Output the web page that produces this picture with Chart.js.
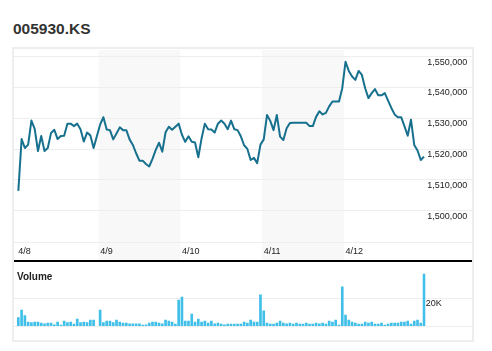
<!DOCTYPE html>
<html>
<head>
<meta charset="utf-8">
<script src="https://cdn.jsdelivr.net/npm/chart.js@4.4.0/dist/chart.umd.min.js"></script>
<style>
  body { margin: 0; background: #fff; font-family: "Liberation Sans", Arial, sans-serif; }
  #wrap { position: relative; width: 492px; height: 351px; }
  #title { position: absolute; left: 13px; top: 21px; font-size: 15.5px; line-height: 16px; font-weight: bold; color: #333; }
  #frame { position: absolute; left: 12px; top: 47px; width: 462px; height: 295px; border: 2px solid #eeeeee; box-sizing: border-box; }
  #priceCanvas { position: absolute; left: 14px; top: 49px; }
  #divider { position: absolute; left: 14px; top: 260px; width: 458px; height: 2px; background: #000; }
  #volCanvas { position: absolute; left: 14px; top: 262px; }
  #volLabel { position: absolute; left: 17px; top: 272px; font-size: 10px; line-height: 10px; font-weight: bold; color: #222; }
</style>
</head>
<body>
<div id="wrap">
  <div id="title">005930.KS</div>
  <div id="frame"></div>
  <canvas id="priceCanvas" width="458" height="211"></canvas>
  <div id="divider"></div>
  <canvas id="volCanvas" width="458" height="78"></canvas>
  <div id="volLabel">Volume</div>
</div>
<script>
const dayLabels = ["4/8", "4/9", "4/10", "4/11", "4/12"];
const slotTimes = ["09:00", "09:15", "09:30", "09:45", "10:00", "10:15", "10:30", "10:45",
  "11:00", "11:15", "11:30", "11:45", "12:00", "12:15", "12:30", "12:45", "13:00", "13:15",
  "13:30", "13:45", "14:00", "14:15", "14:30", "14:45", "15:00"];

// price, 15 minute closes (4/8 has no closing bar)
const priceApr8 = [1506300, 1523100, 1520200, 1521300, 1529100, 1526400, 1519200, 1524100,
  1519200, 1520200, 1525100, 1526100, 1523100, 1524100, 1524200, 1528100, 1528100, 1527300,
  1528100, 1526300, 1522300, 1525200, 1524300, 1520200, null];
const priceApr9 = [1527800, 1530200, 1526200, 1526000, 1523000, 1524900, 1526900, 1526000,
  1526000, 1523000, 1521200, 1518500, 1516100, 1516100, 1515000, 1514200, 1516700, 1519600,
  1521900, 1519000, 1525300, 1527100, 1526100, 1527100, 1528100];
const priceApr10 = [1524500, 1522200, 1524000, 1522200, 1522000, 1517200, 1523300, 1528100,
  1526300, 1526200, 1525200, 1528100, 1529100, 1528100, 1526300, 1529100, 1526300, 1526000,
  1524000, 1521100, 1519900, 1516300, 1517000, 1515300, 1521300];
const priceApr11 = [1523000, 1530900, 1529000, 1526000, 1530900, 1523900, 1522800, 1526600,
  1528300, 1528400, 1528400, 1528400, 1528400, 1528400, 1527300, 1527300, 1530300, 1532100,
  1531100, 1531600, 1533700, 1535300, 1535300, 1535300, 1539600];
const priceApr12 = [1548200, 1545200, 1543400, 1542300, 1545200, 1543900, 1539600, 1536400,
  1538000, 1539300, 1537300, 1537300, 1538000, 1535600, 1533200, 1531100, 1530200, 1530200,
  1527300, 1524200, 1529400, 1521200, 1519400, 1516300, 1517400];

const volApr8 = [5900, 11300, 7300, 2800, 2400, 2800, 2800, 2100, 1600, 2100, 2100, 900, 2800,
  700, 3500, 2400, 2800, 1400, 4900, 2400, 2800, 2400, 4200, 4200, null];
const volApr9 = [11300, 2400, 3500, 3500, 2400, 4200, 2800, 2100, 2100, 1600, 1600, 1600, 1600,
  700, 900, 2100, 2800, 2800, 2100, 1600, 4200, 3500, 2800, 1400, 18400];
const volApr10 = [20500, 3500, 3500, 8500, 2800, 4900, 2800, 3500, 2100, 3500, 1600, 2100, 1400,
  900, 1400, 1400, 1400, 1400, 1400, 2800, 2100, 4200, 2800, 2800, 22100];
const volApr11 = [10700, 2100, 1400, 1400, 2100, 3500, 2100, 1600, 2100, 1400, 2100, 1400, 1400,
  2100, 1400, 1400, 2100, 1600, 2100, 1400, 3500, 2800, 4200, 700, 27600];
const volApr12 = [7800, 4200, 2800, 2100, 1400, 1400, 2800, 2100, 2800, 1400, 1400, 2100, 700,
  1400, 2100, 2100, 2100, 2800, 2800, 3500, 1400, 3500, 4200, 2100, 36700];

const priceTicks = [1500000, 1510000, 1520000, 1530000, 1540000, 1550000];
const volTicks = [0, 20000];

const perDay = slotTimes.length;
const labels = dayLabels.flatMap(d => slotTimes.map(t => d + " " + t));
const prices = [].concat(priceApr8, priceApr9, priceApr10, priceApr11, priceApr12);
const volumes = [].concat(volApr8, volApr9, volApr10, volApr11, volApr12);

const font = { family: '"Liberation Sans", Arial, sans-serif', size: 9 };
const gridColor = "#eeeeee";

// shaded days + horizontal grid lines across the whole frame (drawn before the axes)
const framePlugin = {
  id: "frameLines",
  beforeDraw(chart, args, opts) {
    const { ctx, chartArea, scales } = chart;
    ctx.save();
    if (opts.bands) {
      const half = scales.x.width / chart.data.labels.length / 2;
      ctx.fillStyle = "#f8f8f8";
      opts.bands.forEach(d => {
        const l = scales.x.getPixelForValue(d * perDay) - half;
        const r = scales.x.getPixelForValue(d * perDay + perDay - 1) + half;
        ctx.fillRect(l, chartArea.top, r - l, chart.height - chartArea.top);
      });
    }
    ctx.strokeStyle = gridColor;
    ctx.lineWidth = 1;
    const ys = scales.y.ticks.map(t => scales.y.getPixelForValue(t.value));
    ys.push(chartArea.bottom);
    ys.forEach(y => {
      const py = Math.round(y) + 0.5;
      ctx.beginPath();
      ctx.moveTo(0, py);
      ctx.lineTo(chart.width, py);
      ctx.stroke();
    });
    ctx.restore();
  }
};

new Chart(document.getElementById("priceCanvas"), {
  type: "line",
  data: {
    labels: labels,
    datasets: [{
      data: prices,
      borderColor: "#16708e",
      borderWidth: 2,
      pointRadius: 0,
      tension: 0,
      spanGaps: true,
      borderJoinStyle: "round"
    }]
  },
  options: {
    responsive: false,
    animation: false,
    devicePixelRatio: 1,
    layout: { padding: { left: 2.7, top: 1, right: 0, bottom: 0 } },
    plugins: {
      legend: { display: false },
      tooltip: { enabled: false },
      frameLines: { bands: [1, 3] }
    },
    scales: {
      x: {
        type: "category",
        offset: true,
        grid: { display: false, drawTicks: false },
        border: { display: false },
        // one tick at the first slot of each day
        afterBuildTicks: s => { s.ticks = dayLabels.map((d, i) => ({ value: i * perDay })); },
        afterFit: s => { s.height = 18; },
        ticks: {
          autoSkip: false,
          maxRotation: 0,
          minRotation: 0,
          align: "start",
          padding: 4,
          color: "#222",
          font: font,
          callback: v => dayLabels[Math.floor(v / perDay)]
        }
      },
      y: {
        position: "right",
        min: 1489700,
        max: 1552000,
        grid: { display: false, drawTicks: false },
        border: { display: false },
        afterBuildTicks: s => { s.ticks = priceTicks.map(v => ({ value: v })); },
        afterFit: s => { s.width = 46.3; s.paddingTop = 0; s.paddingBottom = 0; },
        ticks: {
          padding: 1.5,
          labelOffset: 6,
          color: "#222",
          font: font,
          callback: v => v.toLocaleString("en-US")
        }
      }
    }
  },
  plugins: [framePlugin]
});

new Chart(document.getElementById("volCanvas"), {
  type: "bar",
  data: {
    labels: labels,
    datasets: [{
      data: volumes,
      backgroundColor: "#40bfe8",
      barThickness: 2
    }]
  },
  options: {
    responsive: false,
    animation: false,
    devicePixelRatio: 1,
    layout: { padding: { left: 2.7, top: 7.4, right: 0, bottom: 14 } },
    plugins: {
      legend: { display: false },
      tooltip: { enabled: false },
      frameLines: {}
    },
    scales: {
      x: { display: false, offset: true },
      y: {
        position: "right",
        min: 0,
        max: 40000,
        grid: { display: false, drawTicks: false },
        border: { display: false },
        afterBuildTicks: s => { s.ticks = volTicks.map(v => ({ value: v })); },
        afterFit: s => { s.width = 46.3; s.paddingTop = 0; s.paddingBottom = 0; },
        ticks: {
          padding: 0,
          labelOffset: 5.5,
          color: "#222",
          font: font,
          callback: v => v ? (v / 1000) + "K" : ""
        }
      }
    }
  },
  plugins: [framePlugin]
});
</script>
</body>
</html>
